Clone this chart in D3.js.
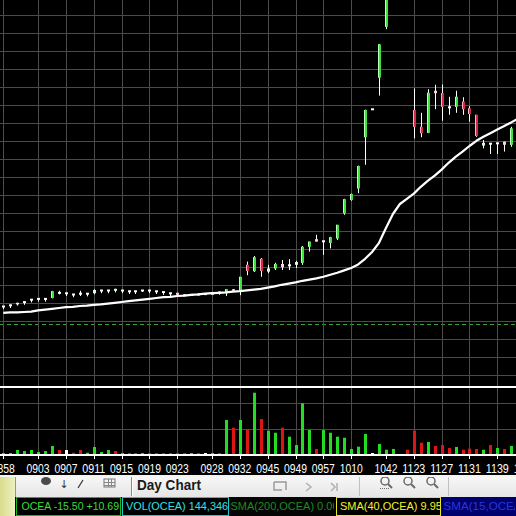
<!DOCTYPE html>
<html><head><meta charset="utf-8">
<script src="https://cdn.jsdelivr.net/npm/d3@7"></script>
<style>html,body{margin:0;padding:0;background:#000;overflow:hidden}svg{display:block}</style>
</head><body><svg id="c" width="516" height="516"></svg>
<script>
// ---------- data ----------
const opens  = [5.27,5.30,5.31,5.38,5.44,5.46,5.46,5.47,5.61,5.60,5.57,5.59,5.59,5.59,5.67,5.67,5.65,5.67,5.65,5.65,
                5.64,5.67,5.65,5.63,5.60,5.60,5.55,5.56,5.57,5.58,5.59,5.62,5.59,5.69,5.62,6.30,6.14,6.45,6.13,6.21,
                6.32,6.30,6.30,6.35,6.75,6.94,6.90,6.85,6.96,7.59,7.92,8.21,9.49,10.20,10.98,12.25,13.90,14.80,14.30,10.17,
                9.75,9.60,10.65,10.59,10.25,10.25,10.38,10.21,10.05,9.28,9.34,9.35,9.38,9.30];
const highs  = [5.27,5.30,5.35,5.38,5.44,5.46,5.46,5.65,5.65,5.60,5.57,5.65,5.59,5.69,5.67,5.67,5.70,5.67,5.65,5.65,
                5.67,5.67,5.65,5.63,5.60,5.60,5.55,5.56,5.57,5.58,5.59,5.63,5.69,5.69,6.00,6.38,6.52,6.47,6.30,6.35,
                6.42,6.44,6.40,6.77,6.88,7.05,6.90,7.00,7.30,7.95,8.08,8.78,10.18,10.20,11.82,14.20,15.50,15.00,14.50,10.71,
                10.10,10.69,10.80,10.81,10.50,10.65,10.49,10.27,10.05,9.42,9.34,9.35,9.38,9.75];
const lows   = [5.19,5.22,5.28,5.30,5.36,5.38,5.38,5.46,5.56,5.52,5.49,5.52,5.51,5.56,5.59,5.59,5.61,5.59,5.57,5.57,
                5.62,5.59,5.57,5.55,5.52,5.53,5.52,5.53,5.54,5.55,5.56,5.55,5.52,5.65,5.54,6.04,6.12,6.00,6.09,6.17,
                6.17,6.17,6.22,6.30,6.63,6.88,6.55,6.71,6.92,7.55,7.90,8.09,8.80,10.20,10.53,12.19,13.60,14.10,13.20,9.46,
                9.49,9.59,10.19,9.90,10.05,10.10,10.05,9.88,9.50,9.21,9.07,9.07,9.13,9.25];
const closes = [5.27,5.30,5.35,5.38,5.44,5.46,5.46,5.64,5.61,5.60,5.57,5.59,5.59,5.67,5.67,5.67,5.70,5.67,5.65,5.65,
                5.67,5.67,5.65,5.63,5.60,5.55,5.55,5.56,5.57,5.58,5.59,5.62,5.69,5.65,6.00,6.15,6.49,6.15,6.21,6.32,
                6.24,6.30,6.37,6.75,6.88,6.88,6.90,6.99,7.30,7.94,8.07,8.77,10.17,10.20,11.81,13.90,14.80,14.30,13.40,9.75,
                9.59,10.60,10.59,10.25,10.25,10.50,10.19,10.07,9.52,9.35,9.34,9.35,9.30,9.71];
const volumes = [1000,1000,4800,3800,4800,2900,3800,8700,4800,4800,2200,4800,2200,7700,2900,4800,3800,1900,1000,1000,
                 1900,1900,1300,1900,500,1900,1900,1000,1000,1300,1000,1000,33700,26300,33700,25000,59900,34600,23400,21400,
                 26300,17600,9600,49700,24000,5800,24000,21400,17600,16600,5800,8000,20200,1000,10600,5100,5800,0,5100,23400,
                 11800,12500,8700,9600,6700,7700,5100,6100,5800,5100,9600,6700,5800,8700];
const volDir = ["g","g","g","g","g","g","g","g","r","w","r","r","g","g","g","g","r","g","r","r",
                "g","r","r","r","r","r","r","g","r","w","g","r","g","r","g","r","g","r","g","g",
                "r","g","g","g","g","r","g","g","g","g","g","g","g","w","g","g","g","g","r","r",
                "r","g","r","r","r","g","r","r","r","g","r","g","r","g"];
const sma40 = [5.10,5.11,5.11,5.12,5.13,5.16,5.18,5.20,5.22,5.24,5.25,5.27,5.28,5.30,5.31,5.33,5.35,5.37,5.39,5.41,
               5.43,5.45,5.47,5.49,5.50,5.52,5.53,5.55,5.56,5.58,5.59,5.60,5.61,5.63,5.64,5.66,5.68,5.70,5.73,5.76,
               5.80,5.83,5.86,5.90,5.93,5.96,6.00,6.05,6.10,6.16,6.22,6.31,6.45,6.62,6.85,7.22,7.57,7.82,7.95,8.08,
               8.25,8.40,8.53,8.68,8.85,9.00,9.13,9.27,9.40,9.50,9.59,9.68,9.77,9.86,9.96];
const tickIdx    = [0,5,9,13,17,21,25,30,34,38,42,46,50,55,59,63,67,71,75];
const tickLabels = ["0858","0903","0907","0911","0915","0919","0923","0928","0932","0945","0949","0957","1010","1042","1123","1127","1131","1139","1143"];
const noGridLabels = ["1042"];
const prevClose = 4.81;
const priceGridTop = 12.54, priceGridStep = 0.45, priceGridCount = 21;
const volGrid = [25000, 50000];
const statusTexts = ["OCEA -15.50 +10.69","VOL(OCEA) 144,346","SMA(200,OCEA) 0.00","SMA(40,OCEA) 9.959","SMA(15,OCEA)"];

// ---------- drawing ----------
const svg = d3.select("#c");
const W = 516;
const x  = d3.scaleLinear().domain([0, 71]).range([3.3, 497.3]);
const y  = d3.scaleLinear().domain([12.92 - 385/40, 12.92]).range([385, 0]);
const yv = d3.scaleLinear().domain([0, 25000]).range([455, 429]);
const cx = i => Math.round(x(i));

svg.append("rect").attr("width", W).attr("height", 516).attr("fill", "#000");

const defs = svg.append("defs");
defs.append("clipPath").attr("id","pclip").append("rect").attr("x",0).attr("y",0).attr("width",W).attr("height",386);
defs.append("clipPath").attr("id","vclip").append("rect").attr("x",0).attr("y",386).attr("width",W).attr("height",69);

const gridColor = "#4b4b4b";
const pg = svg.append("g").attr("clip-path","url(#pclip)");
d3.range(priceGridCount).map(k => priceGridTop - k*priceGridStep).forEach(p => {
  const yy = Math.round(y(p)) + 0.5;
  pg.append("line").attr("x1",0).attr("x2",W).attr("y1",yy).attr("y2",yy).attr("stroke",gridColor).attr("stroke-width",1);
});
tickIdx.forEach((t,k) => {
  if (noGridLabels.includes(tickLabels[k])) return;
  const xx = cx(t) + 0.5;
  svg.append("line").attr("x1",xx).attr("x2",xx).attr("y1",0).attr("y2",386).attr("stroke",gridColor);
  svg.append("line").attr("x1",xx).attr("x2",xx).attr("y1",388).attr("y2",454).attr("stroke",gridColor);
});
volGrid.forEach(v => {
  const yy = Math.floor(yv(v)) + 0.5;
  svg.append("line").attr("x1",0).attr("x2",W).attr("y1",yy).attr("y2",yy).attr("stroke",gridColor);
});

const pcY = Math.round(y(prevClose)) + 0.5;
pg.append("line").attr("x1",0).attr("x2",W).attr("y1",pcY).attr("y2",pcY)
  .attr("stroke","#3aa03a").attr("stroke-width",1).attr("stroke-dasharray","4,3");

// candles
const cg = svg.append("g").attr("clip-path","url(#pclip)");
opens.forEach((o,i) => {
  const h = highs[i], l = lows[i], c = closes[i];
  const xc = cx(i);
  cg.append("line").attr("x1",xc+0.5).attr("x2",xc+0.5).attr("y1",y(h)).attr("y2",y(l))
    .attr("stroke","#ffffff").attr("stroke-width",1);
  const top = y(Math.max(o,c)), bot = y(Math.min(o,c));
  const bh = bot - top;
  if (bh < 1.5) {
    cg.append("rect").attr("x",xc-1).attr("y",top-0.5).attr("width",3).attr("height",2).attr("fill","#ffffff");
  } else if (bh < 4) {
    cg.append("rect").attr("x",xc-1).attr("y",top).attr("width",3).attr("height",bh)
      .attr("fill", c>o ? "#d8ffd8" : "#ffd0da");
  } else {
    const up = c > o;
    cg.append("rect").attr("x",xc-1).attr("y",top).attr("width",3).attr("height",bh)
      .attr("fill", up ? "#3fe03f" : "#d8284e");
    cg.append("rect").attr("x",xc-1).attr("y",top).attr("width",1).attr("height",bh)
      .attr("fill", up ? "#b8ffb8" : "#ffb0c0");
  }
});

// SMA(40)
cg.append("path").datum(sma40)
  .attr("d", d3.line().x((d,i)=>x(i)).y(d=>y(d)))
  .attr("fill","none").attr("stroke","#ffffff").attr("stroke-width",2.2).attr("stroke-linejoin","round");

svg.append("rect").attr("x",0).attr("y",386).attr("width",W).attr("height",2).attr("fill","#ffffff");

// volume bars
const vcol = {g:"#22dd22", r:"#dd1515", w:"#ffffff"};
const vg = svg.append("g").attr("clip-path","url(#vclip)");
volumes.forEach((v,i) => {
  if (v <= 0) return;
  const top = Math.min(yv(v), 453);
  vg.append("rect").attr("x",cx(i)-1).attr("y",top).attr("width",3).attr("height",454-top).attr("fill",vcol[volDir[i]]);
});

// time axis
svg.append("rect").attr("x",0).attr("y",454).attr("width",W).attr("height",2).attr("fill","#ffffff");
tickIdx.forEach((t,k) => {
  const xx = cx(t) + 0.5;
  svg.append("line").attr("x1",xx).attr("x2",xx).attr("y1",456).attr("y2",459).attr("stroke","#ffffff");
  svg.append("text").attr("x",x(t)).attr("y",472.5).attr("text-anchor","middle")
    .attr("font-family","Liberation Sans, Arial, sans-serif").attr("font-size",12)
    .attr("textLength",23).attr("lengthAdjust","spacingAndGlyphs")
    .attr("fill","#ffffff").text(tickLabels[k]);
});

// ---------- toolbar ----------
svg.append("rect").attr("x",0).attr("y",475).attr("width",W).attr("height",2).attr("fill","#f4f4f4");
const tbGrad = defs.append("linearGradient").attr("id","tbg").attr("x1",0).attr("x2",0).attr("y1",0).attr("y2",1);
tbGrad.append("stop").attr("offset","0").attr("stop-color","#f7f7f7");
tbGrad.append("stop").attr("offset","1").attr("stop-color","#e6e6e6");
svg.append("rect").attr("x",0).attr("y",477).attr("width",W).attr("height",20).attr("fill","url(#tbg)");
const edgeGrad = defs.append("linearGradient").attr("id","edg").attr("x1",0).attr("x2",1).attr("y1",0).attr("y2",0);
edgeGrad.append("stop").attr("offset","0").attr("stop-color","#d9dc8a");
edgeGrad.append("stop").attr("offset","1").attr("stop-color","#eef0c0");
svg.append("rect").attr("x",0).attr("y",477).attr("width",15).attr("height",39).attr("fill","url(#edg)");
svg.append("line").attr("x1",15.5).attr("x2",15.5).attr("y1",477).attr("y2",497).attr("stroke","#9a9a7a");

defs.append("clipPath").attr("id","tbclip").append("rect").attr("x",0).attr("y",477).attr("width",W).attr("height",20);
const tbc = svg.append("g").attr("clip-path","url(#tbclip)");
tbc.append("ellipse").attr("cx",46).attr("cy",481).attr("rx",5).attr("ry",4).attr("fill","#4a4a4a");
tbc.append("text").attr("x",64).attr("y",488).attr("font-size",11).attr("font-family","DejaVu Sans").attr("fill","#333").attr("text-anchor","middle").text("↓");
tbc.append("line").attr("x1",78).attr("y1",488).attr("x2",83).attr("y2",480).attr("stroke","#333").attr("stroke-width",1.2);
tbc.append("rect").attr("x",104).attr("y",479).attr("width",11).attr("height",8).attr("fill","none").attr("stroke","#777");
[482,485].forEach(yy=>tbc.append("line").attr("x1",104).attr("x2",115).attr("y1",yy+0.5).attr("y2",yy+0.5).attr("stroke","#888"));
[108,111].forEach(xx=>tbc.append("line").attr("x1",xx+0.5).attr("x2",xx+0.5).attr("y1",479).attr("y2",487).attr("stroke","#888"));
tbc.append("line").attr("x1",131.5).attr("x2",131.5).attr("y1",477).attr("y2",496).attr("stroke","#8a8a8a");
tbc.append("line").attr("x1",132.5).attr("x2",132.5).attr("y1",477).attr("y2",496).attr("stroke","#ffffff");
tbc.append("text").attr("x",137).attr("y",490).attr("font-family","Liberation Sans, Arial, sans-serif")
  .attr("font-weight","bold").attr("font-size",15).attr("textLength",64).attr("lengthAdjust","spacingAndGlyphs")
  .attr("fill","#1a1a1a").text("Day Chart");
tbc.append("path").attr("d","M274,482 H286 V490 M274,482 V490 H282").attr("fill","none").attr("stroke","#9a9a9a").attr("stroke-width",1.5);
tbc.append("path").attr("d","M306,483 L311,487 L306,491").attr("fill","none").attr("stroke","#b0b0b0").attr("stroke-width",1.5);
tbc.append("path").attr("d","M331,483 L335,487 L331,491 M337,483 V491").attr("fill","none").attr("stroke","#b0b0b0").attr("stroke-width",1.5);
tbc.append("line").attr("x1",359.5).attr("x2",359.5).attr("y1",477).attr("y2",496).attr("stroke","#c0c0c0");
[385,408,431].forEach((mx,k)=>{
  tbc.append("circle").attr("cx",mx).attr("cy",481).attr("r",4).attr("fill","none").attr("stroke","#6a6a6a").attr("stroke-width",1.5);
  tbc.append("line").attr("x1",mx+3).attr("y1",484).attr("x2",mx+7).attr("y2",488).attr("stroke","#6a6a6a").attr("stroke-width",2);
  if (k===0) tbc.append("line").attr("x1",mx-5).attr("x2",mx+5).attr("y1",488.5).attr("y2",488.5).attr("stroke","#6a6a6a").attr("stroke-dasharray","1,1");
});
tbc.append("line").attr("x1",448.5).attr("x2",448.5).attr("y1",477).attr("y2",496).attr("stroke","#c0c0c0");

// ---------- status bar ----------
svg.append("rect").attr("x",15).attr("y",497).attr("width",W-15).attr("height",19).attr("fill","#000");
const segs = [
  {x0:16, x1:121, tx:21.5, tl:97.5, bg:"#000000", border:"#18b818", col:"#3cdc3c"},
  {x0:122,x1:229, tx:126, tl:102,  bg:"#000000", border:"#22c8c8", col:"#36e0e0"},
  {x0:229,x1:335, tx:230.5,tl:108, bg:"#050505", border:null,     col:"#1f8a1f"},
  {x0:336,x1:441, tx:340, tl:108,  bg:"#000000", border:"#e6e61e", col:"#f2f228"},
  {x0:441,x1:516, tx:443.5,tl:82,  bg:"#00006e", border:null,     col:"#2838d8"}
];
segs.forEach((s,k) => {
  const id = "sc"+k;
  defs.append("clipPath").attr("id",id).append("rect").attr("x",s.x0+1).attr("y",498).attr("width",s.x1-s.x0-2).attr("height",17);
  svg.append("rect").attr("x",s.x0).attr("y",497).attr("width",s.x1-s.x0).attr("height",19).attr("fill",s.bg);
  if (s.border) svg.append("rect").attr("x",s.x0+0.5).attr("y",497.5).attr("width",s.x1-s.x0-1).attr("height",18)
    .attr("fill","none").attr("stroke",s.border);
  svg.append("g").attr("clip-path",`url(#${id})`).append("text").attr("x",s.tx).attr("y",509.5)
    .attr("font-family","Liberation Sans, Arial, sans-serif").attr("font-size",11.5)
    .attr("textLength",s.tl).attr("lengthAdjust","spacingAndGlyphs")
    .attr("fill",s.col).text(statusTexts[k]);
});
</script>
</body></html>
